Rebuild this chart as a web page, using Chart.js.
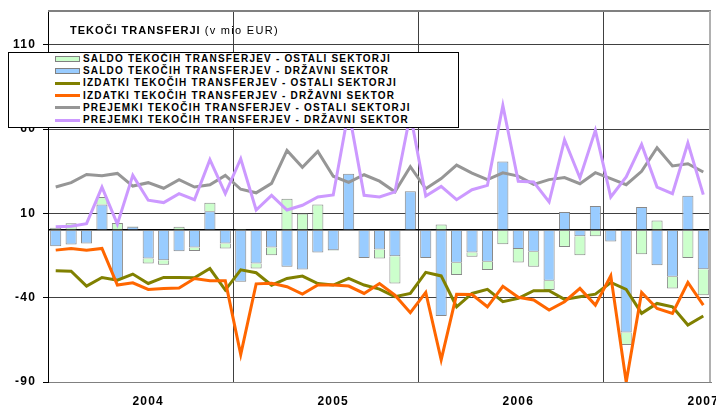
<!DOCTYPE html>
<html>
<head>
<meta charset="utf-8">
<script src="https://cdn.jsdelivr.net/npm/chart.js@4.4.1/dist/chart.umd.min.js"></script>
<style>
  html, body { margin: 0; padding: 0; background: #fff; }
  #wrap { position: relative; width: 716px; height: 408px; }
  #canvas { display: block; }
  #title { position: absolute; left: 70px; top: 24px; font: bold 11px/12px 'Liberation Sans', Arial, sans-serif; letter-spacing: 1px; white-space: nowrap; color: #000; }
  #title span { font-weight: normal; letter-spacing: 1.3px; }
  #legend { position: absolute; left: 8px; top: 52px; width: 451px; height: 76px; box-sizing: border-box; border: 1px solid #000; background: #fff; }
  .row { position: relative; height: 12.2px; padding-left: 74px; font: bold 10px/12.2px 'Liberation Sans', Arial, sans-serif; letter-spacing: 1.2px; white-space: nowrap; color: #000; }
  .sw { position: absolute; left: 46px; width: 25px; box-sizing: border-box; }
  .sw.box { top: 3px; height: 6px; border: 1px solid #808080; }
  .sw.line { top: 4.6px; height: 3px; }
</style>
</head>
<body>
<div id="wrap">
  <canvas id="canvas" width="716" height="408"></canvas>
  <div id="title">TEKOČI TRANSFERJI <span>(v mio EUR)</span></div>
  <div id="legend"></div>
</div>
<script>
// months Jan 2004 - Jul 2007
const months = [
  '01/2004','02/2004','03/2004','04/2004','05/2004','06/2004','07/2004','08/2004','09/2004','10/2004','11/2004','12/2004',
  '01/2005','02/2005','03/2005','04/2005','05/2005','06/2005','07/2005','08/2005','09/2005','10/2005','11/2005','12/2005',
  '01/2006','02/2006','03/2006','04/2006','05/2006','06/2006','07/2006','08/2006','09/2006','10/2006','11/2006','12/2006',
  '01/2007','02/2007','03/2007','04/2007','05/2007','06/2007','07/2007'
];
const yearLabels = ['2004', '2005', '2006', '2007'];
const yearLabelIndex = [6, 18, 30, 42];
const yTicks = [-90, -40, 0, 10, 60, 110, 130];
const yLabels = [-90, -40, 10, 60, 110];

const saldoOstali = [
  1.4, 4.1, 0.5, 4.5, 4.3, 0.3, -3.0, -2.6, 2.0, -2.0, 5.1, -3.0,
  0.8, -3.0, -4.5, 18.7, 9.9, 15.2, -0.4, 0, 0.3, -5.3, -16.2, 0,
  0.3, 3.4, -7.3, -2.6, -4.9, -8.3, -7.9, -8.9, -5.5, -9.9, -11.2, -3.6,
  0.3, -7.3, -14.2, 5.7, -6.9, -16.4, -15.4
];
const saldoDrzavni = [
  -9.5, -8.5, -7.9, 15.2, -29.2, 2.0, -16.8, -17.8, -12.4, -10.3, 11.2, -7.9,
  -30.6, -19.7, -10.3, -21.7, -23.3, -13.2, -11.8, 33.5, -16.4, -11.4, -15.4, 23.1,
  -16.4, -50.9, -19.3, -13.2, -18.7, 40.8, -11.2, -12.8, -30.0, 10.8, -3.6, 14.4,
  -6.7, -60.7, 13.8, -20.7, -27.6, 20.5, -23.1
];
const izdatkiOstali = [
  -24.1, -24.3, -33.1, -28.0, -29.6, -26.0, -31.6, -28.0, -28.0, -28.2, -22.7, -35.5,
  -23.5, -25.2, -32.6, -28.6, -27.2, -31.6, -32.5, -28.6, -32.5, -34.9, -39.4, -37.5,
  -25.0, -27.1, -45.4, -37.5, -35.1, -42.4, -40.4, -35.9, -35.9, -41.0, -39.4, -37.9,
  -31.0, -35.1, -49.3, -43.4, -45.4, -56.2, -50.9
];
const izdatkiDrzavni = [
  -11.8, -10.8, -11.8, -10.8, -32.5, -31.2, -35.1, -34.5, -34.3, -28.6, -30.0, -30.0,
  -73.7, -31.8, -31.4, -33.5, -37.9, -32.5, -32.5, -33.1, -37.5, -31.6, -38.5, -48.9,
  -36.9, -76.9, -38.0, -38.1, -45.4, -33.3, -39.8, -41.4, -47.3, -42.4, -34.5, -44.4,
  -27.0, -90.0, -36.9, -46.4, -49.3, -31.0, -44.4
];
const prejemkiOstali = [
  25.6, 28.2, 33.1, 32.3, 33.7, 26.2, 28.2, 24.9, 30.0, 25.6, 27.0, 32.5,
  24.3, 22.2, 27.8, 47.3, 37.3, 46.7, 32.0, 28.4, 32.9, 29.1, 22.8, 37.7,
  24.6, 30.6, 38.6, 33.9, 30.0, 34.0, 32.1, 27.2, 30.0, 31.2, 27.6, 34.1,
  30.6, 27.0, 34.9, 48.9, 38.1, 39.4, 34.5
];
const prejemkiDrzavni = [
  2.0, 2.4, 3.9, 25.6, 3.6, 32.5, 17.8, 16.4, 21.7, 18.1, 41.8, 21.7,
  42.4, 12.0, 20.7, 12.0, 14.8, 19.7, 20.9, 71.0, 20.7, 19.7, 22.7, 69.0,
  20.3, 26.0, 18.1, 24.0, 26.6, 74.0, 29.0, 28.6, 16.8, 53.6, 31.0, 59.2,
  19.7, 31.6, 50.9, 25.6, 21.7, 51.7, 21.1
];

const fontFamily = "'Liberation Sans', Arial, sans-serif";

// canvas letter spacing, like the original axis labels
const spacing = {
  id: 'spacing',
  beforeLayout(chart) { chart.ctx.letterSpacing = '1.2px'; },
  beforeDraw(chart) { chart.ctx.letterSpacing = '1.2px'; }
};

// grey top and right edge of the plot area, drawn last
const frame = {
  id: 'frame',
  afterDraw(chart) {
    const { ctx, chartArea } = chart;
    const top = Math.round(chartArea.top);
    ctx.save();
    ctx.fillStyle = '#808080';
    ctx.fillRect(chartArea.left, top - 1, chartArea.right - chartArea.left, 2);
    ctx.fillStyle = '#b0b0b0';
    ctx.fillRect(Math.round(chartArea.right) - 2, top, 2, chartArea.bottom - top);
    ctx.restore();
  }
};

const ctx = document.getElementById('canvas').getContext('2d');

const myChart = new Chart(ctx, {
  data: {
    labels: months,
    datasets: [
      {
        type: 'bar',
        label: 'SALDO TEKOČIH TRANSFERJEV - OSTALI SEKTORJI',
        data: saldoOstali,
        backgroundColor: '#CCFFCC',
        borderColor: '#888888',
        borderWidth: 1,
        stack: 'saldo',
        order: 11,
        barPercentage: 0.72,
        categoryPercentage: 1
      },
      {
        type: 'bar',
        label: 'SALDO TEKOČIH TRANSFERJEV - DRŽAVNI SEKTOR',
        data: saldoDrzavni,
        backgroundColor: '#99CCFF',
        borderColor: '#888888',
        borderWidth: 1,
        stack: 'saldo',
        order: 10,
        barPercentage: 0.72,
        categoryPercentage: 1
      },
      {
        type: 'line',
        label: 'IZDATKI TEKOČIH TRANSFERJEV - OSTALI SEKTORJI',
        data: izdatkiOstali,
        borderColor: '#808000',
        backgroundColor: '#808000',
        borderWidth: 3,
        pointRadius: 0,
        fill: false,
        stack: 'l1',
        order: 3
      },
      {
        type: 'line',
        label: 'IZDATKI TEKOČIH TRANSFERJEV - DRŽAVNI SEKTOR',
        data: izdatkiDrzavni,
        borderColor: '#FF6600',
        backgroundColor: '#FF6600',
        borderWidth: 3,
        pointRadius: 0,
        fill: false,
        stack: 'l2',
        order: 2
      },
      {
        type: 'line',
        label: 'PREJEMKI TEKOČIH TRANSFERJEV - OSTALI SEKTORJI',
        data: prejemkiOstali,
        borderColor: '#969696',
        backgroundColor: '#969696',
        borderWidth: 3,
        pointRadius: 0,
        fill: false,
        stack: 'l3',
        order: 1
      },
      {
        type: 'line',
        label: 'PREJEMKI TEKOČIH TRANSFERJEV - DRŽAVNI SEKTOR',
        data: prejemkiDrzavni,
        borderColor: '#CC99FF',
        backgroundColor: '#CC99FF',
        borderWidth: 3,
        pointRadius: 0,
        fill: false,
        stack: 'l4',
        order: 0
      }
    ]
  },
  options: {
    responsive: false,
    animation: false,
    devicePixelRatio: 1,
    layout: { padding: { left: 0, right: 5, top: 11, bottom: 0 } },
    plugins: {
      legend: { display: false },
      tooltip: { enabled: false },
      title: { display: false }
    },
    scales: {
      x: {
        stacked: true,
        offset: true,
        grid: {
          offset: true,
          drawTicks: false,
          color: c => (c.index > 0 && c.index % 12 === 0) ? '#404040' : 'transparent',
          lineWidth: 1
        },
        border: { color: '#808080', width: 1 },
        ticks: {
          autoSkip: false,
          maxRotation: 0,
          minRotation: 0,
          padding: 12,
          color: '#000',
          font: { family: fontFamily, size: 12, weight: 'bold' },
          callback: (v, i) => {
            const k = yearLabelIndex.indexOf(i);
            return k >= 0 ? yearLabels[k] : '';
          }
        },
        afterFit: axis => {
          axis.height = 26;
          axis.paddingLeft = 0;
          axis.paddingRight = 0;
        }
      },
      y: {
        stacked: true,
        min: -90,
        max: 130,
        afterBuildTicks: axis => {
          axis.ticks = yTicks.map(v => ({ value: v }));
        },
        afterFit: axis => {
          axis.width = 48;
          axis.paddingTop = 0;
          axis.paddingBottom = 0;
        },
        grid: {
          color: c => {
            const v = c.tick.value;
            if (v === 0) return '#000';
            if (v === 130) return '#808080';
            if (v === -90) return '#808080';
            return '#404040';
          },
          lineWidth: c => c.tick.value === 0 ? 1.5 : 1,
          tickLength: 5,
          tickColor: c => yLabels.includes(c.tick.value) ? '#000' : 'transparent'
        },
        border: { color: '#000', width: 1 },
        ticks: {
          padding: 7,
          color: '#000',
          font: { family: fontFamily, size: 12, weight: 'bold' },
          callback: v => yLabels.includes(v) ? String(v) : ''
        }
      }
    }
  },
  plugins: [spacing, frame]
});

// legend in the same order as the datasets
const legendEl = document.getElementById('legend');
myChart.data.datasets.forEach(ds => {
  const row = document.createElement('div');
  row.className = 'row';
  const sw = document.createElement('span');
  sw.className = ds.type === 'bar' ? 'sw box' : 'sw line';
  sw.style.background = ds.type === 'bar' ? ds.backgroundColor : ds.borderColor;
  row.appendChild(sw);
  row.appendChild(document.createTextNode(ds.label));
  legendEl.appendChild(row);
});
</script>
</body>
</html>
